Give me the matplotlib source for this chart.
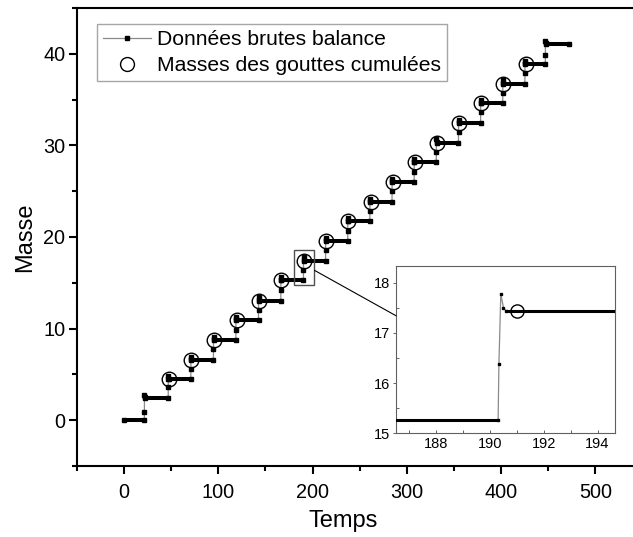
import matplotlib
matplotlib.use("Agg")
import matplotlib.pyplot as plt
from matplotlib.lines import Line2D
from matplotlib.patches import Rectangle, ConnectionPatch
from matplotlib.ticker import MultipleLocator

plt.rcParams['font.family'] = ['Liberation Sans', 'DejaVu Sans']

# ---- data ----
jump_t = [21.5, 46.8, 70.8, 94.8, 118.6, 142.6, 166.3, 190.3, 213.8, 237.3,
          260.8, 284.3, 307.8, 331.3, 354.8, 378.3, 401.8, 425.3, 447.0]
levels = [0.0, 2.4, 4.45, 6.6, 8.75, 10.9, 13.05, 15.27, 17.43, 19.55,
          21.7, 23.85, 26.0, 28.15, 30.3, 32.45, 34.6, 36.75, 38.9, 41.06]
mid_vals = [0.9, 3.6, 5.6, 7.75, 9.9, 12.05, 14.2, 16.38, 18.55, 20.7,
            22.85, 25.0, 27.15, 29.3, 31.45, 33.6, 35.75, 37.9, 39.9]
peak_vals = [2.8, 4.8, 6.95, 9.1, 11.25, 13.4, 15.6, 17.77, 19.9, 22.05,
             24.2, 26.35, 28.5, 30.65, 32.8, 34.95, 37.1, 39.25, 41.45]
settle_vals = [2.5, 4.55, 6.7, 8.85, 11.0, 13.15, 15.35, 17.5, 19.62, 21.77,
               23.92, 26.07, 28.22, 30.37, 32.52, 34.67, 36.82, 38.97, 41.13]
t_first, t_last = 0.0, 472.0
mid_dt, peak_dt, settle_dt, plateau_dt = 0.03, 0.1, 0.2, 0.3

circle_t = [47.5, 71.5, 95.5, 119.3, 143.3, 167.0, 191.0, 214.5, 238.0, 261.5,
            285.0, 308.5, 332.0, 355.5, 379.0, 402.5, 426.0]
circle_m = [4.45, 6.6, 8.75, 10.9, 13.05, 15.27, 17.43, 19.55, 21.7, 23.85,
            26.0, 28.15, 30.3, 32.45, 34.6, 36.75, 38.9]

# raw series built from the read values
starts = [t_first] + [t + plateau_dt for t in jump_t]
ends = jump_t + [t_last]
t_raw, m_raw = [], []
for i, lv in enumerate(levels):
    t_raw += [starts[i], ends[i]]
    m_raw += [lv, lv]
    if i < len(jump_t):
        t_raw += [jump_t[i] + mid_dt, jump_t[i] + peak_dt, jump_t[i] + settle_dt]
        m_raw += [mid_vals[i], peak_vals[i], settle_vals[i]]

fig = plt.figure(figsize=(6.33, 5.37), dpi=100)
ax = fig.add_axes([77/633, 1-466/537, 556/633, 458/537])

raw_color = '#8a8a8a'
ax.plot(t_raw, m_raw, color=raw_color, lw=0.9, marker='s', ms=2.6,
        mfc='black', mec='black', zorder=2)
ax.hlines(levels, starts, ends, colors='black', lw=2.9, zorder=3)
ax.plot(circle_t, circle_m, ls='none', marker='o', ms=10.5, mfc='none',
        mec='black', mew=1.0, zorder=4)

ax.set_xlim(-50, 540)
ax.set_ylim(-5, 45)
ax.xaxis.set_major_locator(MultipleLocator(100))
ax.xaxis.set_minor_locator(MultipleLocator(50))
ax.yaxis.set_major_locator(MultipleLocator(10))
ax.yaxis.set_minor_locator(MultipleLocator(5))
ax.tick_params(which='major', direction='out', length=6, width=1.5,
               labelsize=14.3)
ax.tick_params(axis='x', which='major', pad=6)
ax.tick_params(axis='y', which='major', pad=2.5)
ax.tick_params(which='minor', direction='out', length=3.5, width=1.5)
ax.tick_params(top=False, right=False)
for s in ['left', 'bottom', 'top']:
    ax.spines[s].set_linewidth(1.5)
ax.spines['right'].set_visible(False)
ax.set_xlabel('Temps', fontsize=17)
ax.set_ylabel('Masse', fontsize=17)
ax.xaxis.set_label_coords(0.478, -0.096)
ax.yaxis.set_label_coords(-0.073, 0.5)

handles = [Line2D([], [], color=raw_color, lw=0.9, marker='s', ms=2.6,
                  mfc='black', mec='black'),
           Line2D([], [], ls='none', marker='o', ms=10, mfc='none',
                  mec='black', mew=1.0)]
leg = ax.legend(handles, ['Données brutes balance', 'Masses des gouttes cumulées'],
                loc='upper left', bbox_to_anchor=(0.036, 0.965), borderaxespad=0,
                fontsize=15.2, frameon=True, fancybox=False, handlelength=2.3,
                handletextpad=0.27, labelspacing=0.33, borderpad=0.28)
leg.get_frame().set_edgecolor('#909090')
leg.get_frame().set_linewidth(1.0)

# zoom rectangle on main axes
rx0, rx1, ry0, ry1 = 180.5, 202.0, 14.75, 18.55
ax.add_patch(Rectangle((rx0, ry0), rx1 - rx0, ry1 - ry0, fill=False,
                       ec='#505050', lw=1.0, zorder=5))

# inset
axin = fig.add_axes([396/633, 1-433.3/537, 219/633, 167.3/537])
axin.plot(t_raw, m_raw, color=raw_color, lw=0.9, marker='s', ms=2.0,
          mfc='black', mec='black', zorder=2)
axin.hlines(levels, starts, ends, colors='black', lw=2.2, zorder=3)
axin.plot(circle_t, circle_m, ls='none', marker='o', ms=9.5, mfc='none',
          mec='black', mew=1.0, zorder=4)
axin.set_xlim(186.5, 194.65)
axin.set_ylim(15, 18.33)
axin.xaxis.set_major_locator(MultipleLocator(2))
axin.xaxis.set_minor_locator(MultipleLocator(1))
axin.yaxis.set_major_locator(MultipleLocator(1))
axin.yaxis.set_minor_locator(MultipleLocator(0.5))
axin.tick_params(axis='x', which='both', direction='in', length=2.5, width=0.7,
                 labelsize=10.5, pad=3, color='#606060')
axin.tick_params(axis='y', which='major', direction='out', length=2.5, width=0.7,
                 labelsize=10.5, pad=1.5, color='#606060')
axin.tick_params(axis='y', which='minor', direction='in', length=2, width=0.7,
                 color='#606060')
for s in axin.spines.values():
    s.set_linewidth(0.8)
    s.set_edgecolor('#606060')

con = ConnectionPatch(xyA=(rx1, 16.36), coordsA=ax.transData,
                      xyB=(186.5, 17.34), coordsB=axin.transData,
                      color='black', lw=0.8)
fig.add_artist(con)

fig.savefig('out.png', dpi=100)
